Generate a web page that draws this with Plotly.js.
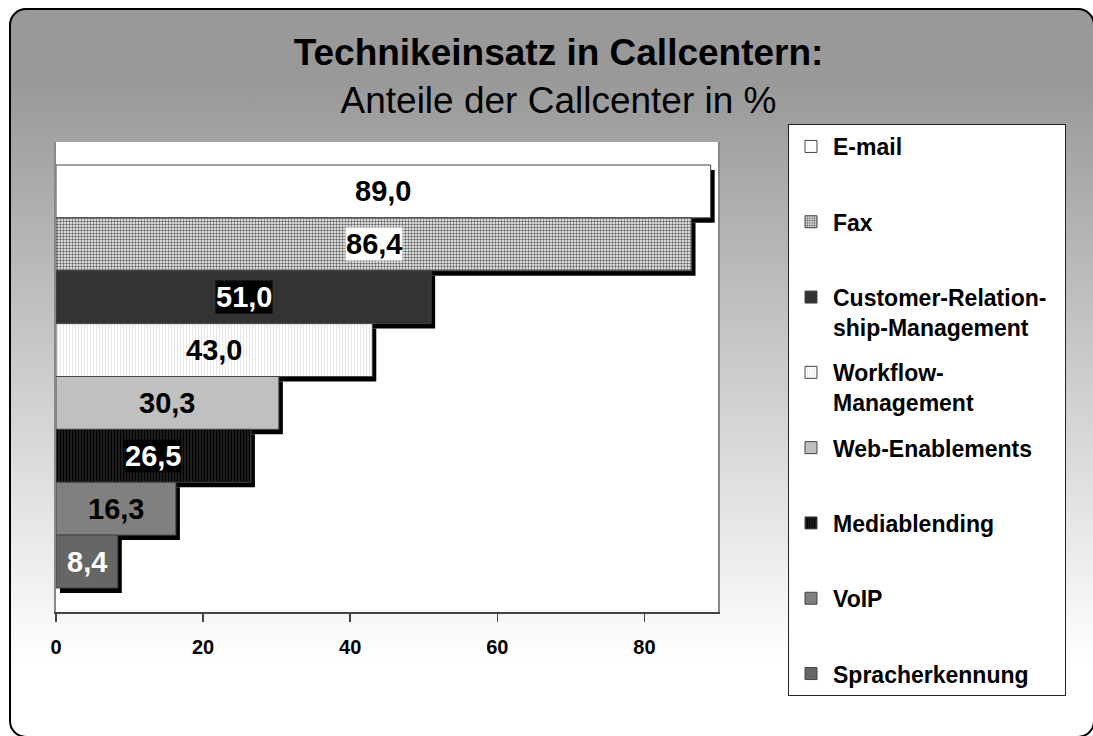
<!DOCTYPE html>
<html>
<head>
<meta charset="utf-8">
<script src="https://cdn.plot.ly/plotly-3.0.1.min.js"></script>
<style>
  html, body { margin:0; padding:0; width:1093px; height:736px; overflow:hidden; background:#fff; }
  #bg { position:absolute; left:9px; top:8px; width:1086px; height:730px; box-sizing:border-box;
        border:2px solid #000; border-radius:17px;
        background:linear-gradient(to bottom, #999999 10%, #ffffff 90%); }
  #chart { position:absolute; left:0; top:0; width:1093px; height:736px; }
</style>
</head>
<body>
<div id="bg"></div>
<div id="chart"></div>
<script>
// ---- data ----
const categories = ['E-mail', 'Fax', 'Customer-Relationship-Management', 'Workflow-Management',
                    'Web-Enablements', 'Mediablending', 'VoIP', 'Spracherkennung'];
const legendLabels = ['E-mail<br> ', 'Fax<br> ', 'Customer-Relation-&nbsp;&nbsp;<br>ship-Management', 'Workflow-<br>Management',
                      'Web-Enablements<br> ', 'Mediablending<br> ', 'VoIP<br> ', 'Spracherkennung'];
const values = [89.0, 86.4, 51.0, 43.0, 30.3, 26.5, 16.3, 8.4];
const xTicks = [0, 20, 40, 60, 80];

// ---- styles ----
const FONT = '"Liberation Sans", Arial, sans-serif';
const fills = ['#ffffff', '#ffffff', '#333333', '#ffffff', '#c0c0c0', '#262626', '#808080', '#666666'];
const patterns = [
  null,
  {shape: '.', fgcolor: '#666666', bgcolor: '#ffffff', size: 3, solidity: 0.5},
  null,
  {shape: '|', fgcolor: '#e4e4e4', bgcolor: '#ffffff', size: 3, solidity: 0.3},
  null,
  {shape: '|', fgcolor: '#000000', bgcolor: '#262626', size: 3, solidity: 0.5},
  null,
  null
];
const labelColors = ['#000', '#000', '#fff', '#000', '#000', '#fff', '#000', '#fff'];
const labelBgs = ['rgba(0,0,0,0)', '#ffffff', '#000000', 'rgba(0,0,0,0)', 'rgba(0,0,0,0)', '#000000', 'rgba(0,0,0,0)', 'rgba(0,0,0,0)'];

const traces = [];
// shadows (drawn on shifted, hidden base axes)
categories.forEach((c, i) => {
  traces.push({
    type: 'bar', orientation: 'h', x: [values[i]], y: [c], width: 1,
    xaxis: 'x', yaxis: 'y', marker: {color: '#000000'},
    showlegend: false, hoverinfo: 'skip'
  });
});
// main bars
categories.forEach((c, i) => {
  const m = {color: fills[i], line: {color: '#444444', width: 1}};
  if (patterns[i]) m.pattern = patterns[i];
  traces.push({
    type: 'bar', orientation: 'h', x: [values[i]], y: [c], width: 1,
    xaxis: 'x2', yaxis: 'y2', name: legendLabels[i], legendgroup: 'g' + i,
    marker: m, hoverinfo: 'x+y'
  });
});

const annotations = categories.map((c, i) => ({
  x: values[i] / 2, y: c, xref: 'x2', yref: 'y2', showarrow: false,
  text: values[i].toFixed(1).replace('.', ','),
  font: {family: FONT, size: 29, weight: 'bold', color: labelColors[i]},
  bgcolor: labelBgs[i], borderpad: 0
}));

// axis ranges: main
const xr = [0, 90];
const yr = [7.954, -0.935];
// shadow shifts (4px right, 5px down)
const pxPerX = 662 / (xr[1] - xr[0]);
const pxPerY = 470 / (yr[0] - yr[1]);
const dx = 4 / pxPerX, dy = 5 / pxPerY;

const layout = {
  width: 1093, height: 736,
  paper_bgcolor: 'rgba(0,0,0,0)', plot_bgcolor: '#ffffff',
  margin: {l: 56, r: 375, t: 142, b: 124, autoexpand: false},
  barmode: 'overlay',
  font: {family: FONT, color: '#000'},
  title: {
    text: '<b>Technikeinsatz in Callcentern:</b><br>Anteile der Callcenter in %',
    font: {family: FONT, size: 37, color: '#000'},
    x: 0.511, xanchor: 'center', xref: 'container',
    y: 0.912, yanchor: 'top', yref: 'container'
  },
  xaxis: {range: [xr[0] - dx, xr[1] - dx], visible: false, fixedrange: true},
  yaxis: {type: 'category', categoryorder: 'array', categoryarray: categories,
          range: [yr[0] - dy, yr[1] - dy], visible: false, fixedrange: true},
  xaxis2: {overlaying: 'x', anchor: 'y2', side: 'bottom', range: xr,
           tickmode: 'array', tickvals: xTicks, ticktext: xTicks.map(String),
           showline: true, linecolor: '#444', linewidth: 2,
           ticks: 'outside', ticklen: 8, tickwidth: 1.5, tickcolor: '#444',
           showgrid: false, zeroline: false, ticklabelstandoff: 8,
           tickfont: {family: FONT, size: 20, weight: 'bold', color: '#000'}, fixedrange: true},
  yaxis2: {overlaying: 'y', anchor: 'x2', type: 'category', categoryorder: 'array', categoryarray: categories,
           range: yr, showline: true, mirror: true, linecolor: '#888', linewidth: 2,
           showticklabels: false, ticks: '', showgrid: false, zeroline: false, fixedrange: true},
  legend: {
    x: (788 - 56) / 662, xanchor: 'left', xref: 'paper',
    y: 1 + (142 - 124) / 470, yanchor: 'top', yref: 'paper',
    bgcolor: '#ffffff', bordercolor: '#222', borderwidth: 1,
    font: {family: FONT, size: 23, weight: 'bold', color: '#000'},
    traceorder: 'grouped', tracegroupgap: 12.5, valign: 'top',
    itemwidth: 34, maxheight: 1000,
    itemclick: false, itemdoubleclick: false
  },
  annotations: annotations,
  showlegend: true
};

Plotly.newPlot('chart', traces, layout, {displayModeBar: false, staticPlot: true});
</script>
</body>
</html>
